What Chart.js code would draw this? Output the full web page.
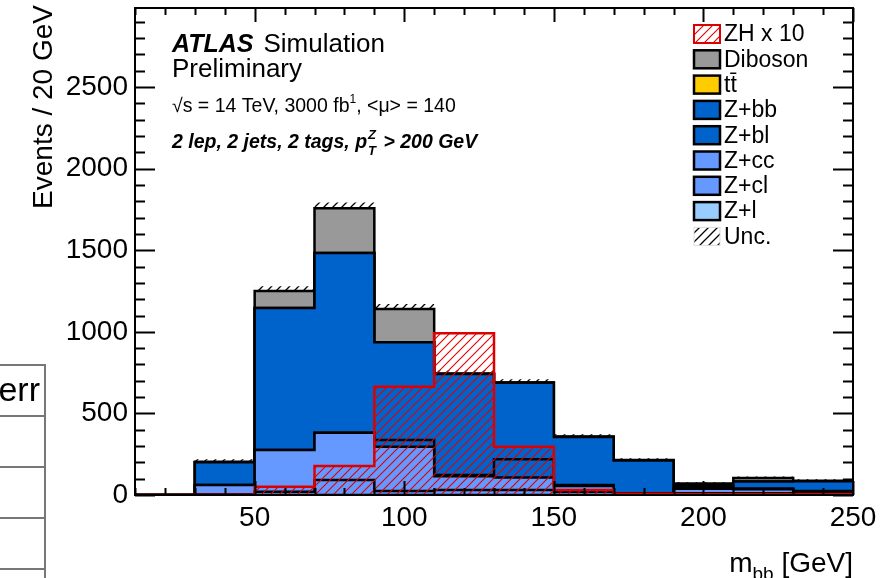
<!DOCTYPE html>
<html><head><meta charset="utf-8">
<script src="https://cdn.jsdelivr.net/npm/chart.js@4/dist/chart.umd.min.js"></script>
<style>
html,body{margin:0;padding:0;background:#fff;}
#wrap{position:relative;width:891px;height:578px;overflow:hidden;background:#fff;}
#c{position:absolute;left:0;top:0;}
#tbl{position:absolute;left:-20px;top:364px;width:64px;height:230px;border-top:2px solid #777;border-right:2px solid #777;font-family:'Liberation Sans',Arial,sans-serif;}
#tbl .row{height:49px;border-bottom:2px solid #777;}
#tbl .hd{height:51px;border-bottom:2px solid #777;font-size:34px;line-height:46px;text-align:right;padding-right:4px;box-sizing:border-box;}
</style></head><body>
<div id="wrap">
<canvas id="c" width="891" height="578"></canvas>
<div id="tbl"><div class="hd">err</div><div class="row"></div><div class="row"></div><div class="row"></div></div>
</div>
<script>
// ---- data (20 GeV bins) ----
const binEdges = [10,30,50,70,90,110,130,150,170,190,210,230,250];
const zl      = [0,0,0,0,0,0,0,0,0,0,0,0];
const zcl     = [0,5,20,92,25,30,30,20,3,10,10,5];
const zcc     = [0,56,256,290,271,85,78,35,5,28,25,15];
const zbl     = [0,0,0,0,41,7,111,6,2,12,5,5];
const zbb     = [0,139,870,1101,600,619,469,294,202,12,42,60];
const ttbar   = [0,0,0,0,0,0,0,0,0,0,0,0];
const diboson = [0,4,104,275,203,4,2,3,2,8,22,3];
const unc     = [0,15,30,35,30,20,20,15,12,8,10,8];
const zh10    = [0,2,50,178,664,991,296,30,8,4,4,4];
const yTicksMajor = [0,500,1000,1500,2000,2500];
const xTicksMajor = [50,100,150,200,250];

const FONT = "'Liberation Sans', Arial, Helvetica, sans-serif";

function steps(vals){
  const pts = vals.map((v,i)=>({x: binEdges[i], y: v}));
  pts.push({x: binEdges[binEdges.length-1], y: vals[vals.length-1]});
  return pts;
}
function hatch(color, s, lw, bg){
  const c = document.createElement('canvas'); c.width = s; c.height = s;
  const g = c.getContext('2d');
  if (bg){ g.fillStyle = bg; g.fillRect(0,0,s,s); }
  g.strokeStyle = color; g.lineWidth = lw;
  g.beginPath();
  g.moveTo(0,s); g.lineTo(s,0);
  g.moveTo(-2,2); g.lineTo(2,-2);
  g.moveTo(s-2,s+2); g.lineTo(s+2,s-2);
  g.stroke();
  return g.createPattern(c,'repeat');
}
const ctx = document.getElementById('c').getContext('2d');
const redHatch = hatch('#dd0000', 9, 1.1);
const blackHatch = hatch('#000000', 9, 1.3);

const layers = [
  {label:'Z+l', vals: zl, color:'#99ccff'},
  {label:'Z+cl', vals: zcl, color:'#6699ff'},
  {label:'Z+cc', vals: zcc, color:'#6699ff'},
  {label:'Z+bl', vals: zbl, color:'#0063cc'},
  {label:'Z+bb', vals: zbb, color:'#0063cc'},
  {label:'t\u0074\u0304', vals: ttbar, color:'#ffcc00'},
  {label:'Diboson', vals: diboson, color:'#999999'}
];
const datasets = [];
let cum = new Array(zl.length).fill(0);
layers.forEach((L,i)=>{
  cum = cum.map((c,j)=>c + L.vals[j]);
  datasets.push({label: L.label, data: steps(cum), stepped: 'before', fill: i===0 ? 'origin' : i-1,
    backgroundColor: L.color, borderColor: '#000', borderWidth: 2.5, pointRadius: 0, order: 10});
});
const total = cum.slice();
datasets.push({label:'Unc.', data: steps(total.map((t,j)=>t+unc[j])), stepped:'before', fill: layers.length-1,
  backgroundColor: blackHatch, borderWidth: 0, borderColor:'rgba(0,0,0,0)', pointRadius: 0, order: 5});
datasets.push({label:'ZH x 10', data: steps(zh10), stepped:'before', fill:'origin',
  backgroundColor: redHatch, borderColor:'#dd0000', borderWidth: 2.5, pointRadius: 0, order: 0});

const legendOrder = ['ZH x 10','Diboson','t\u0074\u0304','Z+bb','Z+bl','Z+cc','Z+cl','Z+l','Unc.'];

const atlasPlugin = {
  id: 'atlas',
  afterDatasetsDraw(chart){
    const g = chart.ctx, a = chart.chartArea, xs = chart.scales.x, ys = chart.scales.y;
    g.save();
    g.strokeStyle = '#000'; g.lineWidth = 2;
    // ticks
    g.beginPath();
    for (let v = 0; v <= ys.max; v += 100){
      const y = Math.round(ys.getPixelForValue(v)) + 0.5;
      const L = (v % 500 === 0) ? 20 : 10;
      g.moveTo(a.left, y); g.lineTo(a.left + L, y);
      g.moveTo(a.right, y); g.lineTo(a.right - L, y);
    }
    for (let v = 10; v <= 250; v += 10){
      const x = Math.round(xs.getPixelForValue(v)) + 0.5;
      const L = (v % 50 === 0) ? 14 : 7;
      g.moveTo(x, a.bottom); g.lineTo(x, a.bottom - L);
      g.moveTo(x, a.top); g.lineTo(x, a.top + L);
    }
    g.stroke();
    g.strokeRect(a.left, a.top, a.right - a.left, a.bottom - a.top);

    // axis titles
    g.fillStyle = '#000';
    g.save();
    g.translate(52, 5); g.rotate(-Math.PI/2);
    g.font = '28px ' + FONT; g.textAlign = 'right'; g.textBaseline = 'alphabetic';
    g.fillText('Events / 20 GeV', 0, 0);
    g.restore();
    // x title m_bb [GeV]
    g.textBaseline = 'alphabetic'; g.textAlign = 'left';
    g.font = '28px ' + FONT;
    const wRest = g.measureText(' [GeV]').width, wm = g.measureText('m').width;
    g.font = '19px ' + FONT;
    const wsub = g.measureText('bb').width;
    let x0 = a.right - wRest - wsub - wm;
    g.font = '28px ' + FONT; g.fillText('m', x0, 572);
    g.font = '19px ' + FONT; g.fillText('bb', x0 + wm, 580);
    g.font = '28px ' + FONT; g.fillText(' [GeV]', x0 + wm + wsub, 572);

    // labels
    g.font = 'bold italic 25px ' + FONT;
    g.fillText('ATLAS', 172, 52);
    const wA = g.measureText('ATLAS').width;
    g.font = '26px ' + FONT;
    g.fillText('Simulation', 172 + wA + 10, 52);
    g.fillText('Preliminary', 172, 77);
    g.font = '19.5px ' + FONT;
    let t1 = '\u221As = 14 TeV, 3000 fb';
    g.fillText(t1, 172, 112);
    let w1 = g.measureText(t1).width;
    g.font = '12px ' + FONT; g.fillText('1', 172 + w1, 103);
    let w2 = g.measureText('1').width;
    g.font = '19.5px ' + FONT; g.fillText(', <\u03BC> = 140', 172 + w1 + w2, 112);

    g.font = 'bold italic 19.5px ' + FONT;
    const t2 = '2 lep, 2 jets, 2 tags, p';
    g.fillText(t2, 172, 148);
    let w3 = g.measureText(t2).width;
    g.font = 'bold italic 13px ' + FONT;
    g.fillText('Z', 172 + w3 + 1, 139);
    g.fillText('T', 172 + w3 + 1, 155);
    let w4 = g.measureText('Z').width;
    g.font = 'bold italic 19.5px ' + FONT;
    g.fillText(' > 200 GeV', 172 + w3 + w4 + 3, 148);

    // legend
    const byLabel = {};
    chart.data.datasets.forEach(d => byLabel[d.label] = d);
    legendOrder.forEach((lab, i) => {
      const d = byLabel[lab];
      const cy = 34 + i * 25.3;
      const bx = 694, bw = 26, bh = 18, by = cy - bh/2;
      if (lab === 'ZH x 10'){
        g.fillStyle = '#fff'; g.fillRect(bx, by, bw, bh);
        g.fillStyle = d.backgroundColor; g.fillRect(bx, by, bw, bh);
        g.strokeStyle = d.borderColor; g.lineWidth = 2; g.strokeRect(bx, by, bw, bh);
      } else if (lab === 'Unc.'){
        g.fillStyle = d.backgroundColor; g.fillRect(bx, by, bw, bh);
        g.strokeStyle = '#ddd'; g.lineWidth = 1; g.strokeRect(bx, by, bw, bh);
      } else {
        g.fillStyle = d.backgroundColor; g.fillRect(bx, by, bw, bh);
        g.strokeStyle = '#000'; g.lineWidth = 2.5; g.strokeRect(bx, by, bw, bh);
      }
      g.fillStyle = '#000'; g.font = '23px ' + FONT; g.textAlign = 'left'; g.textBaseline = 'middle';
      g.fillText(lab, 724, cy + 1);
    });
    g.restore();
  }
};

new Chart(ctx, {
  type: 'line',
  data: { datasets },
  options: {
    responsive: false, animation: false, events: [],
    layout: { padding: { top: 8, right: 38, left: 0, bottom: 0 } },
    plugins: { legend: { display: false }, tooltip: { enabled: false } },
    scales: {
      x: { type: 'linear', min: 10, max: 250,
        grid: { display: false, drawTicks: false }, border: { display: false },
        ticks: { autoSkip: false, maxRotation: 0, padding: 6, callback: v => String(v),
                 color: '#000', font: { family: FONT, size: 28 } },
        afterBuildTicks(s){ s.ticks = xTicksMajor.map(v => ({value: v})); },
        afterFit(s){ s.height = 83; s.paddingLeft = 0; s.paddingRight = 0; } },
      y: { type: 'linear', min: 0, max: 2985,
        grid: { display: false, drawTicks: false }, border: { display: false },
        ticks: { autoSkip: false, padding: 7, callback: v => String(v),
                 color: '#000', font: { family: FONT, size: 28 } },
        afterBuildTicks(s){ s.ticks = yTicksMajor.map(v => ({value: v})); },
        afterFit(s){ s.width = 135; s.paddingTop = 0; s.paddingBottom = 0; } }
    }
  },
  plugins: [atlasPlugin]
});
</script>
</body></html>
